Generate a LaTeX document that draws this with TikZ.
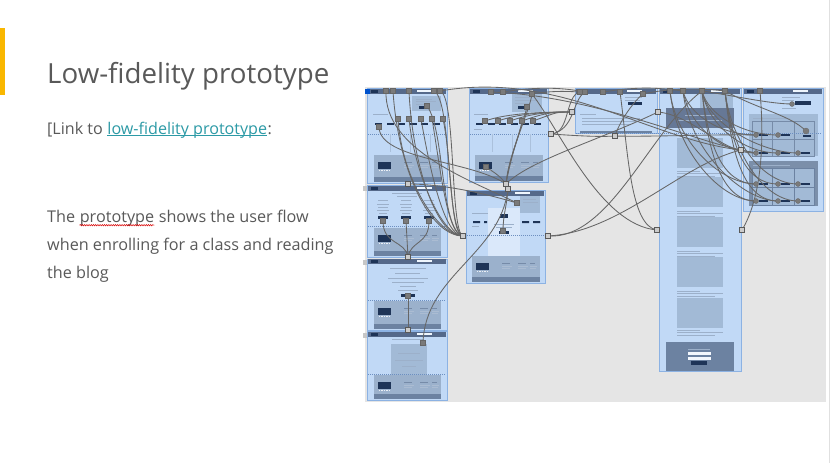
\documentclass[tikz,border=0pt]{standalone}
\usepackage{fontspec}
\setmainfont{Open Sans}
\usetikzlibrary{decorations.pathmorphing}
\definecolor{txt}{HTML}{595959}
\definecolor{linkc}{HTML}{2C9AA6}
\definecolor{barc}{HTML}{F9B700}
\definecolor{canvas}{HTML}{E5E5E5}
\definecolor{scr}{HTML}{C1D9F6}
\definecolor{scrb}{HTML}{8CB2E3}
\definecolor{hdr}{HTML}{55698A}
\definecolor{blk}{HTML}{A2BAD6}
\definecolor{foot}{HTML}{9BB1CC}
\definecolor{footbar}{HTML}{6C82A1}
\definecolor{navy}{HTML}{1E3457}
\definecolor{wirec}{HTML}{666666}
\definecolor{mkc}{HTML}{7A7A7A}
\definecolor{tline}{HTML}{9CB0CA}
\definecolor{fold}{HTML}{6D8FC0}
\newcommand\tl[3]{\draw[tline,line width=0.7pt] (#1,#3)--(#2,#3);}
\newcommand\wsp{\kern0.26em}
\newcommand\scrfoot[4]{%
  \fill[foot] (#1,#2) rectangle (#3,#4-5);
  \fill[footbar] (#1,#4-5) rectangle (#3,#4);
  \fill[navy] (#1+4,#2+7) rectangle (#1+17,#2+13.5);
  \foreach \k in {0,1,2,3,4}{\fill[white!80!foot] (#1+4.5+\k*2.6,#2+15) rectangle (#1+6+\k*2.6,#2+16.3);}
  \draw[tline!70!navy,line width=0.6pt] (#1+30,#2+7)--(#1+38,#2+7) (#1+46,#2+7)--(#1+54,#2+7) (#1+58,#2+7)--(#1+63,#2+7);
  \draw[tline!85!white,line width=0.5pt] (#1+30,#2+10)--(#1+40,#2+10) (#1+30,#2+12.5)--(#1+38,#2+12.5)
     (#1+46,#2+10)--(#1+56,#2+10) (#1+46,#2+12.5)--(#1+54,#2+12.5) (#1+58,#2+10)--(#1+65,#2+10) (#1+58,#2+12.5)--(#1+64,#2+12.5);
}
\newcommand\scrhead[3]{% x1 x2 y
  \fill[hdr] (#1+1,#3+1) rectangle (#2-1,#3+5.5);
  \fill[navy] (#1+4,#3+1.8) rectangle (#1+11,#3+4.7);
  \fill[white!75!scr] (#2-30,#3+2.2) rectangle (#2-15,#3+4.3);
}
\tikzset{
  screen/.style={fill=scr,draw=scrb,line width=0.8pt},
  wire/.style={draw=wirec,line width=0.85pt},
  mk/.style={rectangle,fill=mkc,draw=black!60,line width=0.3pt,minimum size=5pt,inner sep=0pt},
  mkr/.style={circle,fill=mkc,draw=black!60,line width=0.3pt,minimum size=5pt,inner sep=0pt},
  hub/.style={rectangle,fill=black!20,draw=black!65,line width=0.8pt,minimum size=5.5pt,inner sep=0pt},
  txtnode/.style={anchor=base west,inner sep=0pt,text=txt},
  foldline/.style={draw=fold,dashed,dash pattern=on 1pt off 1pt,line width=0.4pt}
}
\begin{document}
\begin{tikzpicture}[x=1pt,y=-1pt]
\useasboundingbox (0,0) rectangle (831,463);
\fill[white] (0,0) rectangle (831,463);
\draw[black!12,line width=0.8pt] (829.5,0)--(829.5,463);
% accent bar
\fill[barc] (0,28) rectangle (5,95);
% texts
\node[txtnode,font=\fontsize{27.7}{34}\selectfont] (title) at (47,83) {Low-fidelity prototype};
\node[txtnode,font=\fontsize{16.1}{19}\selectfont] (l1) at (47,134) {[Link to\wsp};
\node[txtnode,font=\fontsize{16.1}{19}\selectfont,text=linkc] (l2) at (l1.base east) {low-fidelity prototype};
\node[txtnode,font=\fontsize{16.1}{19}\selectfont] (l3) at (l2.base east) {:};
\draw[linkc,line width=0.8pt] ([yshift=-1.8pt]l2.base west) -- ([yshift=-1.8pt]l2.base east);
\node[txtnode,font=\fontsize{16.2}{20}\selectfont] (b1) at (47,222) {The\wsp};
\node[txtnode,font=\fontsize{16.2}{20}\selectfont] (b2) at (b1.base east) {prototype};
\node[txtnode,font=\fontsize{16.2}{20}\selectfont] (b3) at (b2.base east) {\wsp shows the user flow};
\draw[red!85!black,line width=0.5pt,decorate,decoration={snake,amplitude=0.7pt,segment length=2.2pt}]
  ([yshift=-3.2pt]b2.base west) -- ([yshift=-3.2pt]b2.base east);
\node[txtnode,font=\fontsize{16.2}{20}\selectfont] (b4) at (47,250) {when enrolling for a class and reading};
\node[txtnode,font=\fontsize{16.2}{20}\selectfont] (b5) at (47,278) {the blog};

% ===== prototype canvas =====
\fill[canvas] (365,87) rectangle (826,402);
% small tabs
\fill[black!22] (363,186) rectangle (367,191);
\fill[black!22] (363,260) rectangle (367,265);
\fill[black!22] (363,333) rectangle (367,338);

% Screen A
\draw[screen] (367,88) rectangle (447,183);
\scrhead{367}{447}{88}
\fill[blk] (412,96) rectangle (441,111);
\tl{416}{432}{99}\tl{416}{436}{101.5}\tl{416}{430}{104}
\fill[navy] (419,106) rectangle (429,108.5);
\tl{373}{388}{114}
\foreach \k in {0,...,5}{\fill[navy] (375+\k*11.5,122.5) rectangle (382+\k*11.5,125);}
\draw[foldline] (368,134)--(446,134);
\draw[tline!60!scr,line width=0.4pt] (390,134)--(390,152) (410,134)--(410,152) (430,134)--(430,152);
\scrfoot{374}{155}{441}{182}
% Screen B
\draw[screen] (367,185) rectangle (447,257);
\scrhead{367}{447}{185}
\tl{392}{422}{193}\tl{397}{417}{196}
\foreach \cx in {383,406,429}{\tl{\cx-5}{\cx+5}{200}\tl{\cx-6}{\cx+6}{204}\tl{\cx-5}{\cx+5}{207}\tl{\cx-6}{\cx+6}{210}\tl{\cx-4}{\cx+4}{213}
  \fill[navy] (\cx-5,216) rectangle (\cx+5,219);}
\draw[foldline] (368,226)--(446,226);
\scrfoot{374}{228}{441}{256}
% Screen C
\draw[screen] (367,259) rectangle (447,330);
\scrhead{367}{447}{258}
\tl{390}{426}{268}\tl{395}{420}{273}\tl{388}{428}{278}\tl{392}{424}{282}\tl{400}{416}{286}\tl{398}{418}{290}
\fill[navy] (401,294) rectangle (415,297);
\draw[foldline] (368,300)--(446,300);
\scrfoot{374}{301}{441}{329}
% Screen D
\draw[screen] (367,331) rectangle (447,400);
\scrhead{367}{447}{331}
\tl{392}{424}{339}
\fill[blk] (391,344) rectangle (427,375);
\tl{398}{420}{353}\tl{395}{423}{360}\tl{402}{416}{366}
\draw[foldline] (368,374)--(446,374);
\scrfoot{374}{375}{441}{399}
% Screen E
\draw[screen] (469,88) rectangle (548,182);
\scrhead{469}{548}{88}
\fill[blk] (512,94) rectangle (542,112);
\tl{515}{532}{97}\tl{515}{538}{100}\tl{515}{530}{103}
\fill[navy] (518,106) rectangle (528,108.5);
\tl{474}{488}{114}
\foreach \k in {0,...,5}{\fill[navy] (476+\k*11.5,122.5) rectangle (483+\k*11.5,125);}
\tl{474}{482}{129}
\draw[foldline] (470,134)--(547,134);
\draw[tline!60!scr,line width=0.4pt] (492,134)--(492,152) (512,134)--(512,152) (530,134)--(530,152);
\scrfoot{475}{155}{543}{181}
% Screen F
\draw[screen] (466,190) rectangle (545,283);
\scrhead{466}{545}{190}
\fill[white!40!scr] (488,208) rectangle (520,257);
\fill[blk] (520,196) rectangle (540,213);
\tl{523}{536}{199}\tl{523}{538}{202}
\fill[navy] (500,214) rectangle (508,218);
\tl{472}{488}{213}
\fill[navy] (473,221) rectangle (480,223) (484,221) rectangle (487,223) (522,221) rectangle (529,223) (533,221) rectangle (540,223);
\tl{472}{479}{226}
\tl{494}{514}{224}\tl{496}{512}{227}
\fill[navy] (499,231) rectangle (509,234);
\draw[foldline] (467,235)--(544,235);
\scrfoot{472}{256}{540}{282}
% Screen G
\draw[screen] (575,88) rectangle (657,133);
\scrhead{575}{657}{88}
\tl{625}{642}{97}\tl{625}{640}{100}
\fill[navy] (628,102) rectangle (642,105);
\tl{580}{596}{114}\tl{582}{640}{118}\tl{582}{636}{121}\tl{582}{630}{124}
\fill[footbar] (580,131) rectangle (652,133);
% Screen H
\draw[screen] (659,88) rectangle (741,371);
\scrhead{659}{741}{88}
\fill[blk] (700,94) rectangle (733,108);
\fill[hdr!90!white] (666,108) rectangle (734,128);
\tl{685}{715}{115}\tl{678}{722}{120}
\foreach \yy in {138,177,217,257,298}{\fill[blk] (677,\yy) rectangle (723,\yy+30);}
\foreach \yy in {171,211,251,291,330}{\tl{677}{700}{\yy}\tl{677}{723}{\yy+2.5}\tl{677}{715}{\yy+5}}
\fill[footbar] (666,342) rectangle (734,371);
\tl{688}{710}{349}
\fill[white!80!scr] (688,351.5) rectangle (711,354.5);
\fill[white!80!scr] (688,356.5) rectangle (711,359.5);
\fill[navy] (691,361) rectangle (707,365);
% Screen I
\draw[screen] (743,88) rectangle (823,211);
\scrhead{743}{823}{88}
\tl{782}{800}{97}\tl{782}{794}{100}
\fill[navy] (795,101) rectangle (811,105);
\tl{782}{796}{108}
\fill[blk] (749,114) rectangle (818,156);
\tl{753}{790}{118}
\draw[tline!70!navy,line width=0.4pt] (752,121) rectangle (814,156) (752,139)--(814,139) (772,121)--(772,156) (794,121)--(794,156);
\fill[footbar!90!white] (749,161) rectangle (818,206);
\tl{753}{790}{165}
\fill[blk] (752,168) rectangle (814,205);
\draw[footbar,line width=0.6pt] (752,168) rectangle (814,205) (752,187)--(814,187) (772,168)--(772,205) (794,168)--(794,205);
\foreach \x/\y in {756/135,778/135,756/153,778/153,798/153,756/184,778/184,798/184,756/201,778/201,798/201}
  {\fill[navy] (\x+3,\y-1.2) rectangle (\x+12,\y+1.2);}
\fill[navy] (803,134.5) rectangle (811,136.5);
\draw[foldline] (576,133)--(822,133);
% selection mark
\fill[blue!60!cyan!80!black] (365,89) rectangle (369.5,94);

% ===== hub coordinates =====
\coordinate (LA) at (463,236);
\coordinate (AB) at (408,184);
\coordinate (BC) at (408,257);
\coordinate (CD) at (408,330);
\coordinate (FT) at (506,184);
\coordinate (FT2) at (508,189);
\coordinate (ER) at (551,134);
\coordinate (GL) at (572,112);
\coordinate (HL) at (658,112);
\coordinate (HL2) at (657,230);
\coordinate (FR) at (548,236);
\coordinate (HR) at (741,150);
\coordinate (IR) at (742,230);
\coordinate (GB) at (615,136);

% ===== wires =====
% A -> left hub of F
\draw[wire] (393,91) .. controls (398,170) and (430,236) .. (LA);
\draw[wire] (409,91) .. controls (412,160) and (435,236) .. (LA);
\draw[wire] (434,91) .. controls (452,100) and (446,230) .. (LA);
\draw[wire] (440,91) .. controls (456,95) and (450,232) .. (LA);
\draw[wire] (427,106) .. controls (445,130) and (440,230) .. (LA);
\draw[wire] (398,119) .. controls (402,180) and (438,236) .. (LA);
\draw[wire] (409,119) .. controls (415,175) and (442,236) .. (LA);
\draw[wire] (421,119) .. controls (430,170) and (444,236) .. (LA);
\draw[wire] (432,119) .. controls (440,165) and (447,236) .. (LA);
\draw[wire] (443,119) .. controls (452,160) and (450,236) .. (LA);
% A / B -> F
\draw[wire] (379,127) .. controls (380,160) and (470,160) .. (FT);
\draw[wire] (AB) .. controls (440,184) and (480,192) .. (517,203);
\draw[wire] (386,91) .. controls (384,150) and (470,180) .. (517,203);
% B, C, D
\draw[wire] (383,221) .. controls (383,245) and (405,240) .. (BC);
\draw[wire] (406,221) -- (BC);
\draw[wire] (429,221) .. controls (429,245) and (411,240) .. (BC);
\draw[wire] (408,296) -- (CD);
\draw[wire] (423,343) .. controls (425,275) and (500,255) .. (FT2);
\draw[wire] (FT2) .. controls (507,205) and (503,215) .. (503,231);
% F top hub -> E
\draw[wire] (FT) .. controls (510,150) and (530,110) .. (532,94);
\draw[wire] (FT) .. controls (508,160) and (520,135) .. (522,121);
\draw[wire] (FT) .. controls (512,150) and (524,120) .. (527,107);
\draw[wire] (FT) .. controls (500,175) and (490,170) .. (486,167);
\draw[wire] (FT) .. controls (530,160) and (600,140) .. (HL);
% E -> G
\foreach \sx in {485,498,510,522,533}{\draw[wire] (\sx,121) .. controls (\sx+25,112) and (555,112) .. (GL);}
\draw[wire] (532,94) .. controls (550,91) and (562,91) .. (580,92);
\draw[wire] (503,92) .. controls (540,86) and (565,88) .. (585,92);
\draw[wire] (ER) .. controls (570,134) and (565,95) .. (580,92);
\draw[wire] (ER) .. controls (575,130) and (572,100) .. (585,92);
\draw[wire] (ER) .. controls (580,136) and (600,137) .. (GB) .. controls (650,137) and (720,134) .. (756,135);
% long curves to H
\draw[wire] (532,94) .. controls (560,130) and (600,225) .. (HL2);
\draw[wire] (620,92) .. controls (628,150) and (630,226) .. (HL2);
\draw[wire] (FR) .. controls (610,240) and (650,130) .. (702,91);
\draw[wire] (FR) .. controls (620,232) and (680,165) .. (HR);
\draw[wire] (491,92) .. controls (600,96) and (700,145) .. (756,153);
\draw[wire] (440,91) .. controls (560,70) and (650,140) .. (HR);
\draw[wire] (GB) .. controls (620,120) and (635,100) .. (643,94);
\draw[wire] (603,92) .. controls (640,86) and (660,88) .. (683,91);
\draw[wire] (643,94) .. controls (670,88) and (700,88) .. (725,91);
\draw[wire] (HL) .. controls (690,115) and (720,148) .. (HR);
\draw[wire] (HR) -- (756,153);
% H header -> I
\draw[wire] (702,91) .. controls (730,95) and (770,104) .. (792,104);
\draw[wire] (760,91) .. controls (765,150) and (760,200) .. (IR);
\foreach \sx/\ex/\ey in {683/756/135,683/756/153,670/756/184,702/778/135,702/778/153,702/756/184,702/798/153,
  702/756/201,725/778/184,725/798/184,725/778/201,725/798/201,683/778/201,670/756/201}
  {\draw[wire] (\sx,91) .. controls (\sx+6,{91+(\ey-91)*0.55}) and (\ex-35,\ey) .. (\ex,\ey);}
\draw[wire] (725,91) .. controls (760,110) and (790,115) .. (806,131);

% ===== markers =====
\foreach \x/\y [count=\i] in {386/91,393/91,409/91,434/91,440/91,427/106,398/119,409/119,421/119,432/119,443/119,379/127,
  383/221,406/221,429/221,408/296,423/343,503/231,517/203,486/167,
  491/92,503/92,532/94,527/107,485/121,498/121,510/121,522/121,533/121,
  580/92,585/92,603/92,620/92,643/94,670/91,683/91,702/91,725/91,760/91}
  {\node[mk] (m\i) at (\x,\y) {};}
\foreach \x/\y [count=\i] in {756/135,778/135,756/153,778/153,798/153,756/184,778/184,798/184,756/201,778/201,798/201,792/104}
  {\node[mkr] (r\i) at (\x,\y) {};}
\node[mkr,minimum size=6pt] (icon) at (806,131) {};
\foreach \c in {LA,AB,BC,CD,FT,FT2,ER,GL,HL,HL2,FR,HR,IR,GB}
  {\node[hub] (h\c) at (\c) {};}
\end{tikzpicture}
\end{document}
